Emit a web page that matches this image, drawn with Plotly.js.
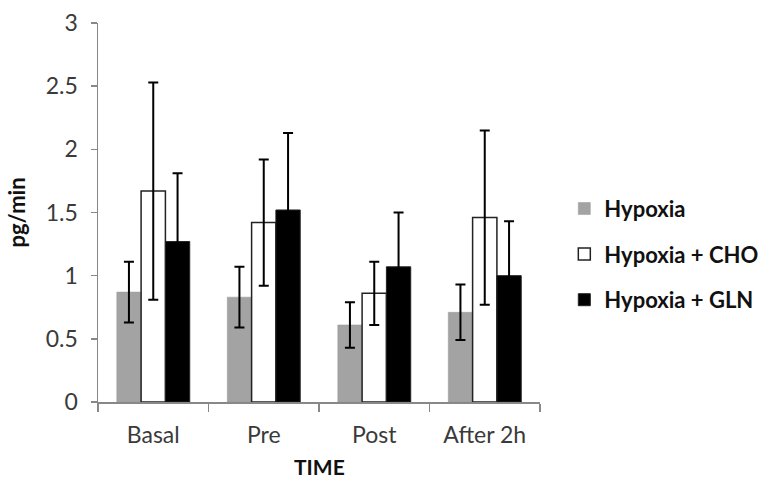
<!DOCTYPE html>
<html><head><meta charset="utf-8">
<script src="https://cdn.plot.ly/plotly-3.0.1.min.js"></script>
<style>html,body{margin:0;padding:0;background:#fff}#c{width:760px;height:481px}</style>
</head><body><div id="c"></div>
<script>
const categories = ["Basal", "Pre", "Post", "After 2h"];
const seriesNames = ["Hypoxia", "Hypoxia + CHO", "Hypoxia + GLN"];
const hypoxia = [0.87, 0.83, 0.61, 0.71];
const hypoxiaErr = [0.24, 0.24, 0.18, 0.22];
const cho = [1.67, 1.42, 0.86, 1.46];
const choErr = [0.86, 0.50, 0.25, 0.69];
const gln = [1.27, 1.52, 1.07, 1.00];
const glnErr = [0.54, 0.61, 0.43, 0.43];
const yTicks = [0, 0.5, 1, 1.5, 2, 2.5, 3];
const xTitle = "TIME";
const yTitle = "pg/min";

const font = "Lato, 'Open Sans', 'Liberation Sans', sans-serif";
function errs(a){return {type:'data', array:a, visible:true, color:'#000', thickness:2, width:5};}
const traces = [
  {type:'bar', name:seriesNames[0], x:categories, y:hypoxia, error_y:errs(hypoxiaErr),
   marker:{color:'#a3a3a3', line:{color:'#999', width:0.5}}, legendgroup:'a'},
  {type:'bar', name:seriesNames[1], x:categories, y:cho, error_y:errs(choErr),
   marker:{color:'#ffffff', line:{color:'#222', width:1.5}}, legendgroup:'b'},
  {type:'bar', name:seriesNames[2], x:categories, y:gln, error_y:errs(glnErr),
   marker:{color:'#000000', line:{color:'#222', width:1}}, legendgroup:'c'}
];
const layout = {
  width:760, height:481,
  margin:{l:98, r:220, t:23, b:79, autoexpand:false},
  paper_bgcolor:'#fff', plot_bgcolor:'#fff',
  barmode:'group', bargap:0.34, bargroupgap:0,
  font:{family:font, size:23, color:'#3a3a3a'},
  xaxis:{
    type:'category', showline:true, linecolor:'#888', linewidth:1.5,
    ticks:'outside', tickson:'boundaries', ticklen:8, tickcolor:'#888', tickwidth:1.5,
    tickfont:{size:23, color:'#3a3a3a'}, ticklabelstandoff:12
  },
  yaxis:{
    range:[0,3], tickvals:yTicks, ticktext:yTicks.map(String),
    showgrid:false, zeroline:false, showline:true, linecolor:'#888', linewidth:1.5,
    ticks:'outside', ticklen:6, tickcolor:'#888', tickwidth:1.5,
    tickfont:{size:23, color:'#3a3a3a'}, ticklabelstandoff:8,
    title:{text:'<b>'+yTitle+'</b>', font:{size:22, color:'#111'}, standoff:14}
  },
  annotations:[{text:'<b>'+xTitle+'</b>', xref:'paper', yref:'paper', x:0.5, y:-0.17,
    xanchor:'center', yanchor:'middle', showarrow:false, borderpad:0,
    font:{size:21, color:'#111', family:font}}],
  showlegend:true,
  legend:{x:1.055, xanchor:'left', y:0.39, yanchor:'middle',
    traceorder:'grouped', tracegroupgap:14,
    font:{size:22, color:'#111', family:font}, bgcolor:'rgba(0,0,0,0)'}
};
traces.forEach(t=>{t.name='<b>'+t.name+'</b>';});
Plotly.newPlot('c', traces, layout, {staticPlot:true, displayModeBar:false});
</script>
</body></html>
